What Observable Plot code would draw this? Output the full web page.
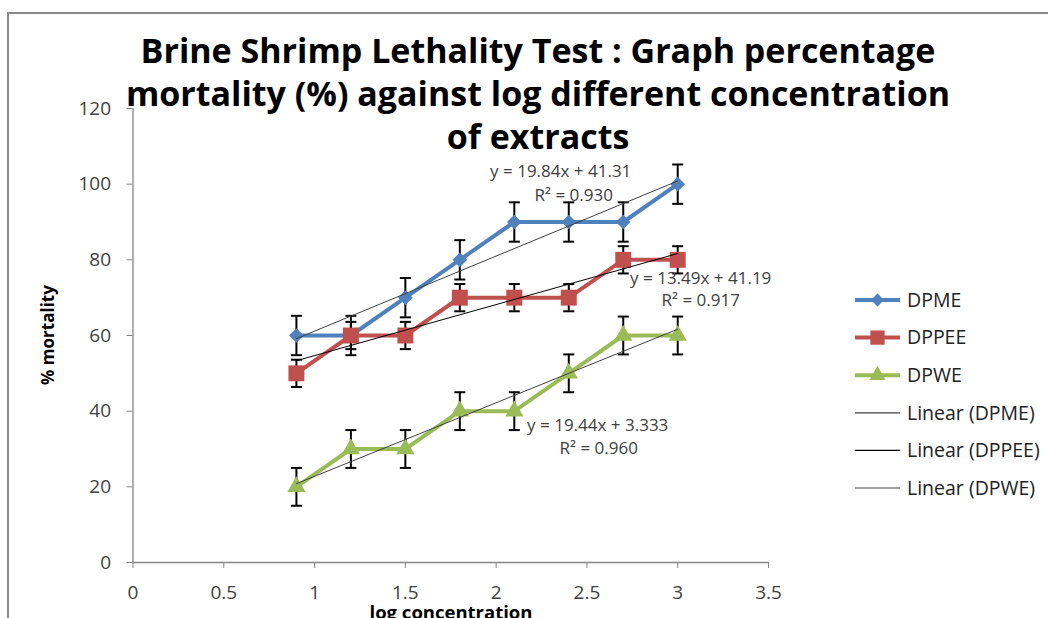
<!DOCTYPE html>
<html><head><meta charset="utf-8">
<script src="https://cdn.jsdelivr.net/npm/d3@7"></script>
<script src="https://cdn.jsdelivr.net/npm/@observablehq/plot@0.6"></script>
<style>
body{margin:0;background:#fff;}
#wrap{position:relative;width:1048px;height:618px;overflow:hidden;background:#fff;font-family:"Open Sans",sans-serif;}
#frame{position:absolute;left:7px;top:12px;width:1100px;height:700px;border-top:2px solid #8a8a8a;border-left:2px solid #8a8a8a;}
#plot{position:absolute;left:0;top:0;}
#title{position:absolute;left:0;width:1076px;top:29px;text-align:center;font-weight:700;font-size:34px;line-height:43px;color:#000;}
#ylab{position:absolute;left:47px;top:335px;transform:translate(-50%,-50%) rotate(-90deg);font-weight:700;font-size:17px;white-space:nowrap;color:#000;}
#xlab{position:absolute;left:451px;top:611px;transform:translate(-50%,-50%);font-weight:700;font-size:18.5px;white-space:nowrap;color:#000;}
#legend{position:absolute;left:850px;top:280px;}
</style></head>
<body>
<div id="wrap">
  <div id="frame"></div>
  <div id="plot"></div>
  <div id="title"><div>Brine Shrimp Lethality Test : Graph percentage</div><div>mortality (%) against log different concentration</div><div>of extracts</div></div>
  <div id="ylab">% mortality</div>
  <div id="xlab">log concentration</div>
  <svg id="legend" width="198" height="230"></svg>
</div>
<script>
// ---- data ----
const logConc = [0.9, 1.2, 1.5, 1.8, 2.1, 2.4, 2.7, 3.0];
const seriesNames = ["DPME", "DPPEE", "DPWE"];
const dpme  = [60, 60, 70, 80, 90, 90, 90, 100];
const dppee = [50, 60, 60, 70, 70, 70, 80, 80];
const dpwe  = [20, 30, 30, 40, 40, 50, 60, 60];
const errDpme  = [5.2, 5.2, 5.2, 5.2, 5.2, 5.2, 5.2, 5.2];
const errDppee = [3.6, 3.6, 3.6, 3.6, 3.6, 3.6, 3.6, 3.6];
const errDpwe  = [5, 5, 5, 5, 5, 5, 5, 5];
const equations = ["y = 19.84x + 41.31", "y = 13.49x + 41.19", "y = 19.44x + 3.333"];
const rSquared = ["R² = 0.930", "R² = 0.917", "R² = 0.960"];
const trendNames = ["Linear (DPME)", "Linear (DPPEE)", "Linear (DPWE)"];
const xTicks = [0, 0.5, 1, 1.5, 2, 2.5, 3, 3.5];
const yTicks = [0, 20, 40, 60, 80, 100, 120];

// ---- styles ----
const seriesColor = {DPME: "#4F81BD", DPPEE: "#C0504D", DPWE: "#9BBB59"};
const trendColor = {DPME: "#404040", DPPEE: "#000000", DPWE: "#404040"};
const seriesSymbol = {DPME: "diamond2", DPPEE: "square", DPWE: "triangle"};
const seriesR = {DPME: 6.6, DPPEE: 9, DPWE: 6.8};

const values = {DPME: dpme, DPPEE: dppee, DPWE: dpwe};
const errs = {DPME: errDpme, DPPEE: errDppee, DPWE: errDpwe};
const rows = seriesNames.flatMap(s => logConc.map((x, i) => ({series: s, x, y: values[s][i], err: errs[s][i]})));
const lastPts = seriesNames.map((s, k) => ({...rows.filter(r => r.series === s).at(-1), eq: equations[k], r2: rSquared[k]}));

const capSymbol = {draw(ctx) { ctx.moveTo(-5.5, 0); ctx.lineTo(5.5, 0); }};

// label offsets (pixels) from the last point of each series
const eqOffsets = [{dx: -117, dy: -13, rdx: -104, rdy: 11}, {dx: 23, dy: 19, rdx: 23, rdy: 41}, {dx: -80, dy: 90, rdx: -79, rdy: 113}];

const marks = [
  Plot.ruleY([0], {stroke: "#868686", strokeWidth: 1.3}),
  Plot.ruleX([0], {stroke: "#868686", strokeWidth: 1.3}),
  Plot.axisX(xTicks, {tickSize: 6, tickPadding: 17, stroke: "#868686", fill: "#404040", tickFormat: d => String(d), label: null, fontSize: 19}),
  Plot.axisY(yTicks, {tickSize: 6, tickPadding: 16, stroke: "#868686", fill: "#404040", tickFormat: d => String(d), label: null, fontSize: 19}),
  Plot.ruleX(rows, {x: "x", y1: d => d.y - d.err, y2: d => d.y + d.err, stroke: "#000", strokeWidth: 2}),
  Plot.dot(rows, {x: "x", y: d => d.y + d.err, symbol: capSymbol, stroke: "#000", strokeWidth: 2}),
  Plot.dot(rows, {x: "x", y: d => d.y - d.err, symbol: capSymbol, stroke: "#000", strokeWidth: 2}),
  Plot.line(rows, {x: "x", y: "y", z: "series", stroke: d => seriesColor[d.series], strokeWidth: 4}),
  ...seriesNames.map(s => Plot.dot(rows.filter(r => r.series === s), {x: "x", y: "y", symbol: () => seriesSymbol[s], fill: seriesColor[s], r: seriesR[s], stroke: "none"})),
  Plot.linearRegressionY(rows, {x: "x", y: "y", z: "series", stroke: d => trendColor[d.series], strokeWidth: 1, ci: 0}),
  ...lastPts.flatMap((p, k) => [
    Plot.text([p], {x: "x", y: "y", text: "eq", dx: eqOffsets[k].dx, dy: eqOffsets[k].dy, fill: "#404040", fontSize: 17}),
    Plot.text([p], {x: "x", y: "y", text: "r2", dx: eqOffsets[k].rdx, dy: eqOffsets[k].rdy, fill: "#404040", fontSize: 17})
  ])
];

const chart = Plot.plot({
  width: 1048, height: 618,
  marginLeft: 132.5, marginRight: 280, marginTop: 108, marginBottom: 56,
  x: {domain: [0, 3.5]},
  y: {domain: [0, 120]},
  color: {type: "identity"},
  symbol: {type: "identity"},
  style: {fontFamily: "Open Sans", background: "transparent", overflow: "visible"},
  marks
});
document.getElementById("plot").appendChild(chart);

// ---- legend ----
const leg = d3.select("#legend");
const items = [
  ...seriesNames.map(s => ({label: s, color: seriesColor[s], w: 4, sym: seriesSymbol[s], r: seriesR[s]})),
  ...seriesNames.map((s, k) => ({label: trendNames[k], color: trendColor[s], w: 1.2}))
];
items.forEach((it, i) => {
  const g = leg.append("g").attr("transform", `translate(0,${20 + i * 37.6})`);
  g.append("line").attr("x1", 5).attr("x2", 50).attr("y1", 0).attr("y2", 0).attr("stroke", it.color).attr("stroke-width", it.w);
  if (it.sym) {
    const t = {diamond2: d3.symbolDiamond2, square: d3.symbolSquare, triangle: d3.symbolTriangle}[it.sym];
    g.append("path").attr("d", d3.symbol(t, Math.PI * it.r * it.r * 0.8)()).attr("transform", "translate(27.5,0)").attr("fill", it.color);
  }
  g.append("text").attr("x", 57).attr("y", 0).attr("dy", "0.35em").attr("font-size", 19.5).attr("fill", "#222").attr("font-family", "Open Sans").text(it.label);
});
</script>
</body></html>
